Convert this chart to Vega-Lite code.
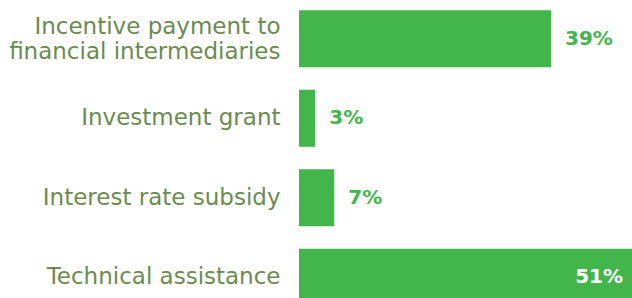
{
  "$schema": "https://vega.github.io/schema/vega-lite/v6.json",
  "width": 333,
  "height": 318,
  "autosize": {"type": "none"},
  "padding": {"left": 299, "top": -1, "right": 0, "bottom": 0},
  "background": "white",
  "config": {"view": {"stroke": null}},
  "data": {
    "values": [
      {"category": "Incentive payment to|financial intermediaries", "value": 38.6, "label": "39%", "inside": false},
      {"category": "Investment grant", "value": 2.5, "label": "3%", "inside": false},
      {"category": "Interest rate subsidy", "value": 5.4, "label": "7%", "inside": false},
      {"category": "Technical assistance", "value": 51, "label": "51%", "inside": true}
    ]
  },
  "encoding": {
    "y": {
      "field": "category",
      "type": "nominal",
      "sort": null,
      "scale": {"paddingInner": 0.28, "paddingOuter": 0.14},
      "axis": {
        "title": null,
        "domain": false,
        "ticks": false,
        "labelPadding": 19,
        "labelExpr": "split(datum.value, '|')",
        "labelFont": "DejaVu Sans",
        "labelFontSize": 23,
        "labelLineHeight": 25,
        "labelColor": "#6B8B4F",
        "labelLimit": 400,
        "labelOffset": {"condition": {"test": "indexof(datum.value, '|') >= 0", "value": -12}, "value": 0}
      }
    },
    "x": {
      "field": "value",
      "type": "quantitative",
      "scale": {"domain": [0, 51], "nice": false},
      "axis": null
    }
  },
  "layer": [
    {"mark": {"type": "bar", "color": "#42B64A"}},
    {
      "transform": [{"filter": "!datum.inside"}],
      "mark": {"type": "text", "align": "left", "baseline": "middle", "dx": 14, "font": "DejaVu Sans", "fontWeight": "bold", "fontSize": 20, "color": "#42B64A"},
      "encoding": {"text": {"field": "label"}}
    },
    {
      "transform": [{"filter": "datum.inside"}],
      "mark": {"type": "text", "align": "right", "baseline": "middle", "dx": -9, "font": "DejaVu Sans", "fontWeight": "bold", "fontSize": 20, "color": "white"},
      "encoding": {"text": {"field": "label"}}
    }
  ]
}
